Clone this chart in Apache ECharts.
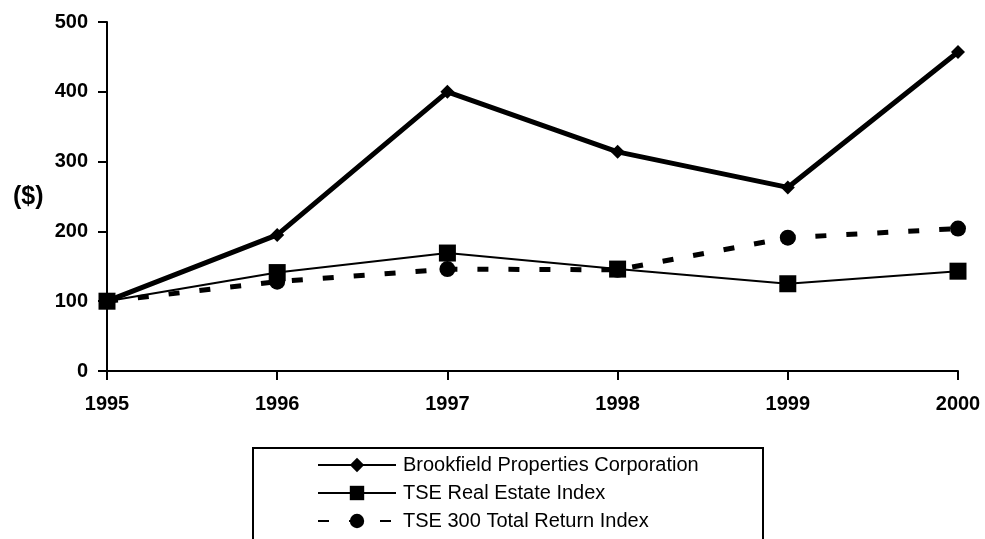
<!DOCTYPE html>
<html>
<head>
<meta charset="utf-8">
<script src="https://cdn.jsdelivr.net/npm/echarts@6/dist/echarts.min.js"></script>
<style>
  html, body { margin: 0; padding: 0; background: #fff; }
  #chart { width: 985px; height: 539px; }
</style>
</head>
<body>
<div id="chart"></div>
<script>
  const years = ['1995', '1996', '1997', '1998', '1999', '2000'];
  const brookfield = [100, 195, 400, 314, 263, 457];
  const realEstate = [100, 141, 169, 146, 125, 143];
  const tse300 = [100, 128, 146, 145, 191, 204];

  const font = 'Arial, "Liberation Sans", sans-serif';

  const chart = echarts.init(document.getElementById('chart'));
  chart.setOption({
    animation: false,
    grid: { left: 107, right: 27, top: 22, bottom: 168 },
    graphic: [
      {
        type: 'rect',
        shape: { x: 253, y: 448, width: 510, height: 100 },
        style: { fill: 'none', stroke: '#000', lineWidth: 2 }
      },
      {
        type: 'text',
        left: 13,
        top: 185,
        style: { text: '($)', fill: '#000', font: 'bold 25px ' + font }
      }
    ],
    xAxis: {
      type: 'category',
      data: years,
      boundaryGap: false,
      axisLine: { lineStyle: { color: '#000', width: 2 } },
      axisTick: { lineStyle: { color: '#000', width: 2 }, length: 9 },
      axisLabel: { color: '#000', fontWeight: 'bold', fontSize: 20, fontFamily: font, margin: 23 },
      splitLine: { show: false }
    },
    yAxis: {
      type: 'value',
      min: 0,
      max: 500,
      interval: 100,
      axisLine: { show: true, lineStyle: { color: '#000', width: 2 } },
      axisTick: { show: true, lineStyle: { color: '#000', width: 2 }, length: 9 },
      axisLabel: { color: '#000', fontWeight: 'bold', fontSize: 20, fontFamily: font, margin: 19 },
      splitLine: { show: false }
    },
    legend: {
      orient: 'vertical',
      left: 317,
      top: 455,
      padding: 0,
      itemGap: 8,
      itemWidth: 78,
      itemHeight: 18,
      textStyle: { color: '#000', fontSize: 20, fontFamily: font, padding: [0, 0, 0, 2] },
      data: ['Brookfield Properties Corporation', 'TSE Real Estate Index', 'TSE 300 Total Return Index']
    },
    series: [
      {
        name: 'Brookfield Properties Corporation',
        type: 'line',
        data: brookfield,
        symbol: 'diamond',
        symbolSize: 14,
        itemStyle: { color: '#000' },
        lineStyle: { color: '#000', width: 5 }
      },
      {
        name: 'TSE 300 Total Return Index',
        type: 'line',
        data: tse300,
        symbol: 'circle',
        symbolSize: 16,
        itemStyle: { color: '#000' },
        lineStyle: { color: '#000', width: 5, type: [11, 20] }
      },
      {
        name: 'TSE Real Estate Index',
        type: 'line',
        data: realEstate,
        symbol: 'rect',
        symbolSize: 17,
        itemStyle: { color: '#000' },
        lineStyle: { color: '#000', width: 2 }
      }
    ]
  });
</script>
</body>
</html>
